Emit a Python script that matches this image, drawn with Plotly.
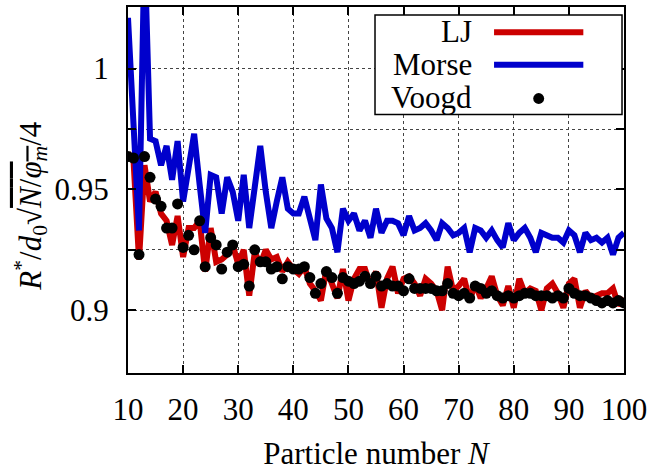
import plotly.graph_objects as go

N = list(range(10, 101))

lj = [0.965, 0.962, 0.921, 0.960, 0.945, 0.949, 0.940, 0.937, 0.927, 0.939,
      0.922, 0.934, 0.934, 0.937, 0.916, 0.934, 0.920, 0.921, 0.923, 0.927,
      0.919, 0.925, 0.906, 0.924, 0.919, 0.925, 0.921, 0.922, 0.916, 0.920,
      0.917, 0.915, 0.918, 0.911, 0.908, 0.904, 0.917, 0.910, 0.905, 0.917,
      0.904, 0.913, 0.917, 0.917, 0.910, 0.916, 0.901, 0.913, 0.918, 0.907,
      0.913, 0.914, 0.911, 0.906, 0.913, 0.911, 0.908, 0.900, 0.918, 0.908,
      0.910, 0.913, 0.904, 0.911, 0.905, 0.909, 0.914, 0.906, 0.902, 0.910,
      0.901, 0.913, 0.907, 0.909, 0.908, 0.900, 0.909, 0.911, 0.907, 0.901,
      0.911, 0.913, 0.901, 0.908, 0.905, 0.906, 0.907, 0.907, 0.909, 0.902,
      0.905]

morse = [1.021, 0.978, 0.933, 1.050, 0.971, 0.970, 0.960, 0.968, 0.954, 0.970,
         0.945, 0.959, 0.973, 0.952, 0.932, 0.956, 0.955, 0.940, 0.955, 0.949,
         0.937, 0.956, 0.934, 0.951, 0.968, 0.949, 0.934, 0.945, 0.955, 0.942,
         0.940, 0.940, 0.947, 0.938, 0.929, 0.952, 0.938, 0.934, 0.924, 0.942,
         0.937, 0.940, 0.933, 0.937, 0.930, 0.942, 0.932, 0.937, 0.937, 0.936,
         0.931, 0.939, 0.933, 0.934, 0.936, 0.933, 0.929, 0.936, 0.934, 0.931,
         0.932, 0.934, 0.924, 0.934, 0.933, 0.930, 0.933, 0.929, 0.926, 0.936,
         0.929, 0.932, 0.934, 0.930, 0.924, 0.932, 0.931, 0.930, 0.930, 0.928,
         0.933, 0.931, 0.924, 0.932, 0.929, 0.930, 0.928, 0.930, 0.923, 0.930,
         0.932]

voogd = [0.9636, 0.963, 0.923, 0.9636, 0.955, 0.946, 0.943, 0.934, 0.934, 0.944,
         0.926, 0.931, 0.925, 0.937, 0.918, 0.930, 0.927, 0.917, 0.924, 0.927,
         0.918, 0.919, 0.910, 0.925, 0.920, 0.920, 0.917, 0.918, 0.913, 0.918,
         0.917, 0.917, 0.918, 0.9135, 0.907, 0.911, 0.916, 0.9135, 0.907, 0.9135,
         0.912, 0.911, 0.912, 0.914, 0.911, 0.914, 0.910, 0.911, 0.910, 0.910,
         0.908, 0.913, 0.909, 0.909, 0.909, 0.909, 0.908, 0.908, 0.911, 0.907,
         0.906, 0.907, 0.905, 0.910, 0.909, 0.907, 0.908, 0.906, 0.905, 0.906,
         0.905, 0.906, 0.907, 0.907, 0.906, 0.906, 0.906, 0.905, 0.906, 0.905,
         0.909, 0.907, 0.906, 0.906, 0.905, 0.904, 0.903, 0.904, 0.903, 0.904,
         0.903]

x_ticks = [10, 20, 30, 40, 50, 60, 70, 80, 90, 100]
y_ticks = [0.9, 0.95, 1.0]
y_ticktext = ["0.9", "0.95", "1"]
y_minor_ticks = [0.925, 0.975]

RED = "#cc0000"
BLUE = "#0000cc"
FONT = "Liberation Serif"
FS = 31

fig = go.Figure()
fig.add_trace(go.Scatter(x=N, y=lj, mode="lines", line=dict(color=RED, width=6), name="LJ"))
fig.add_trace(go.Scatter(x=N, y=morse, mode="lines", line=dict(color=BLUE, width=6), name="Morse"))
fig.add_trace(go.Scatter(x=N, y=voogd, mode="markers",
                         marker=dict(color="black", size=11), name="Voogd"))

L, R, T, B = 128, 24, 5, 99
W, H = 652, 472
pw, ph = W - L - R, H - T - B


def px(xp):
    return (xp - L) / pw


def py(yp):
    return (H - B - yp) / ph


shapes = [
    dict(type="rect", xref="paper", yref="paper", x0=px(377), x1=px(626), y0=py(113), y1=py(13),
         line=dict(color="black", width=1.5), fillcolor="white", layer="above"),
    dict(type="line", xref="paper", yref="paper", x0=px(497), x1=px(587), y0=py(30.5), y1=py(30.5),
         line=dict(color=RED, width=6), layer="above"),
    dict(type="line", xref="paper", yref="paper", x0=px(497), x1=px(587), y0=py(63), y1=py(63),
         line=dict(color=BLUE, width=6), layer="above"),
    dict(type="circle", xref="paper", yref="paper", x0=px(542 - 5.5), x1=px(542 + 5.5),
         y0=py(97 + 5.5), y1=py(97 - 5.5), fillcolor="black", line=dict(color="black", width=0),
         layer="above"),
]

annotations = [
    dict(text=t, xref="paper", yref="paper", x=px(477), y=py(yc), xanchor="right", yanchor="middle",
         showarrow=False, font=dict(family=FONT, size=FS, color="black"))
    for t, yc in [("LJ", 30), ("Morse", 63), ("Voogd", 96)]
]
annotations.append(dict(
    text="<i>R</i><sup>*</sup>/<i>d</i><sub>0</sub>√<span style=\"text-decoration:overline\"><i>N</i>/<i>φ</i><sub><i>m</i></sub></span>/4",
    xref="paper", yref="paper", x=px(30), y=py(205), xanchor="center", yanchor="middle",
    textangle=-90, showarrow=False, font=dict(family=FONT, size=FS, color="black")))

grid_style = dict(showgrid=True, gridcolor="#444", griddash="dot", gridwidth=1)

fig.update_layout(
    width=W, height=H,
    margin=dict(l=L, r=R, t=T, b=B),
    paper_bgcolor="white", plot_bgcolor="white",
    showlegend=False,
    font=dict(family=FONT, size=FS, color="black"),
    shapes=shapes, annotations=annotations,
    xaxis=dict(range=[10, 100], tickvals=x_ticks, ticks="inside", ticklen=8, tickwidth=1.5,
               tickcolor="black", showline=True, linecolor="black", linewidth=2, mirror="allticks",
               zeroline=False, ticklabelstandoff=8, **grid_style,
               title=dict(text="Particle number <i>N</i>", font=dict(family=FONT, size=FS), standoff=16)),
    yaxis=dict(range=[0.874, 1.0255], tickvals=y_ticks, ticktext=y_ticktext, ticks="inside",
               ticklen=8, tickwidth=1.5, tickcolor="black", showline=True, linecolor="black",
               linewidth=2, mirror="allticks", zeroline=False, ticklabelstandoff=11, **grid_style,
               minor=dict(tickvals=y_minor_ticks, ticks="inside", ticklen=8, tickwidth=1.5,
                          tickcolor="black", **grid_style)),
)

fig.write_html("out.html", config={"displayModeBar": False},
               post_script="document.body.style.margin='0';document.body.style.padding='0';")
